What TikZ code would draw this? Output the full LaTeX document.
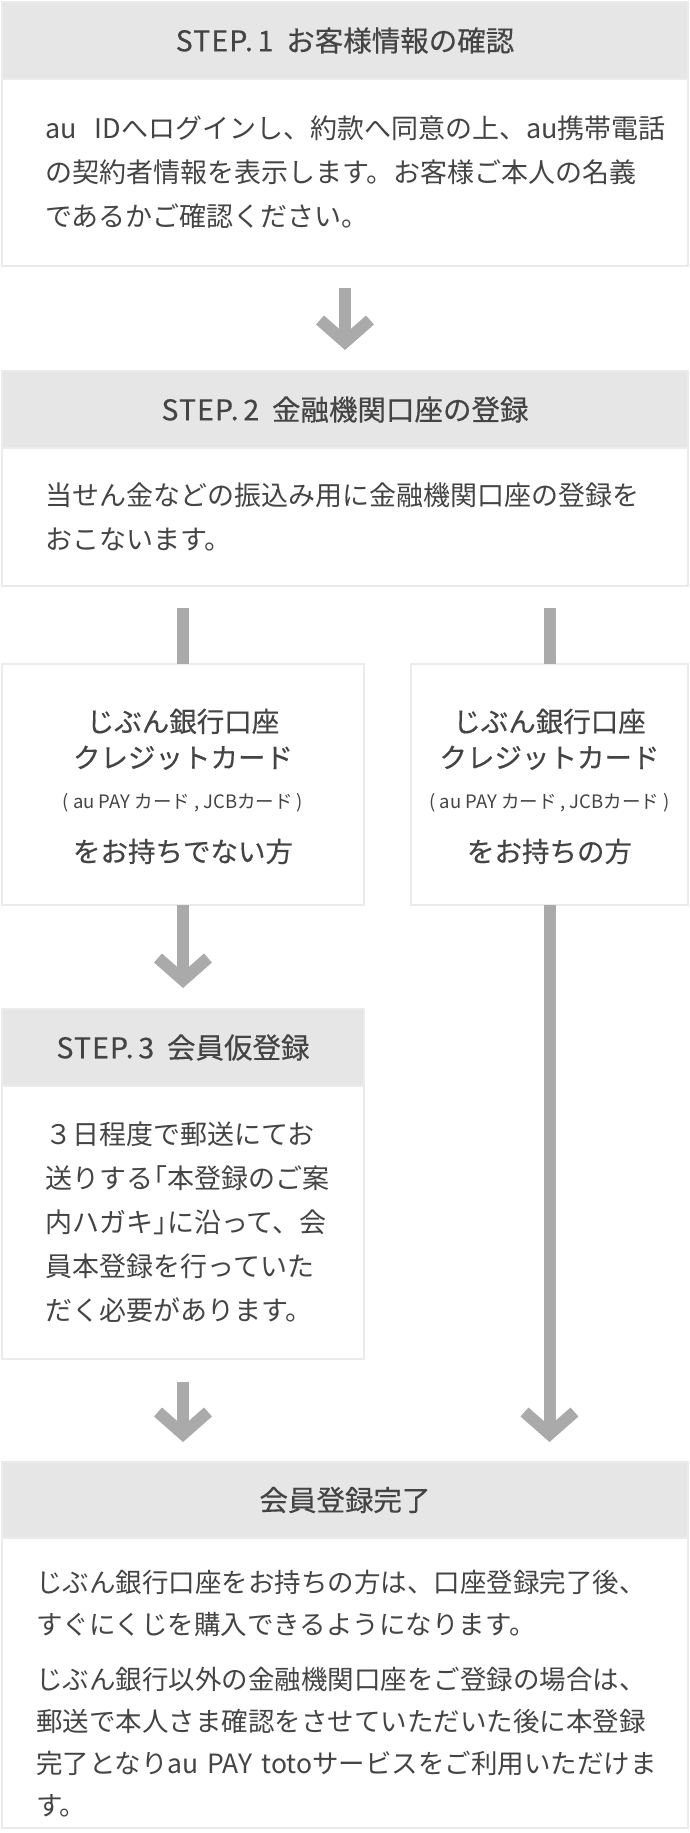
\documentclass[tikz,border=0pt]{standalone}
\usepackage{fontspec}
\setmainfont{Noto Sans CJK JP}
\newfontfamily\hdfont[FakeBold=0.4]{Noto Sans CJK JP}
\usepackage{tikz}
\usetikzlibrary{arrows.meta,positioning}

\definecolor{hdgray}{HTML}{E6E6E6}
\definecolor{lngray}{HTML}{EBEBEB}
\definecolor{argray}{HTML}{AAAAAA}
\definecolor{txgray}{HTML}{444444}

\newcommand{\lbr}{\makebox[0.5em][r]{「}}
\newcommand{\rbr}{\makebox[0.5em][l]{」}}
\newcommand{\stepno}[1]{{\addfontfeature{LetterSpace=4}STEP.\,#1}\hspace{0.45em}}
\newcommand{\cardnote}{{\normalfont\fontsize{18.5}{20}\selectfont ( au\ PAY\ カード\ ,\ JCBカード\ )}}

\begin{document}
\begin{tikzpicture}[x=1pt,y=-1pt,
    every node/.style={text=txgray,inner sep=0pt,outer sep=0pt},
    head/.style={draw=lngray,fill=hdgray,line width=2pt,minimum height=77pt,
                 font=\hdfont\fontsize{28.5}{34}\selectfont},
    body/.style={draw=lngray,fill=white,line width=2pt,align=left,
                 font=\fontsize{27}{44}\selectfont},
    choice/.style={draw=lngray,fill=white,line width=2pt,align=center,minimum height=241pt,
                 font=\hdfont\fontsize{27.5}{36}\selectfont},
    flow/.style={draw=argray,line width=12pt,-{Straight Barb[length=22pt,width=50pt,line width=12pt]}},
    bar/.style={draw=argray,line width=12pt}]
  \path[use as bounding box,fill=white] (0,0) rectangle (690,1833);

  \node[head,minimum width=686pt]            (hd1) at (345,40.5) {\stepno{1}お客様情報の確認};
  \node[body,minimum height=187pt,text width=600pt,inner xsep=43pt] (bd1) [below=0pt of hd1]
    {au\ \ IDへログインし、約款へ同意の上、au携帯電話\\の契約者情報を表示します。お客様ご本人の名義\\であるかご確認ください。};

  \node[head,minimum width=686pt]            (hd2) at (345,409.5) {\stepno{2}金融機関口座の登録};
  \node[body,minimum height=138pt,text width=600pt,inner xsep=43pt] (bd2) [below=0pt of hd2]
    {当せん金などの振込み用に金融機関口座の登録を\\おこないます。};

  \node[choice,minimum width=362pt] (bA) at (183,784.5)
    {\rule{0pt}{27pt}じぶん銀行口座\\クレジットカード\\[5pt]\cardnote\\[17pt]をお持ちでない方};
  \node[choice,minimum width=277pt] (bB) at (549.5,784.5)
    {\rule{0pt}{27pt}じぶん銀行口座\\クレジットカード\\[5pt]\cardnote\\[17pt]をお持ちの方};

  \node[head,minimum width=362pt]            (hd3) at (183,1047.5) {\stepno{3}会員仮登録};
  \node[body,minimum height=273pt,text width=275pt,inner xsep=43.5pt] (bd3) [below=0pt of hd3]
    {３日程度で郵送にてお\\送りする\lbr 本登録のご案\\内ハガキ\rbr に沿って、会\\員本登録を行っていた\\だく必要があります。};

  \node[head,minimum width=686pt,minimum height=76pt] (hdF) at (345,1500) {会員登録完了};
  \node[body,minimum height=290pt,text width=618pt,inner xsep=34pt,
        font=\fontsize{26.5}{42}\selectfont] (bdF) [below=0pt of hdF]
    {\rule{0pt}{44pt}じぶん銀行口座をお持ちの方は、口座登録完了後、\\すぐにくじを購入できるようになります。\\[13pt]じぶん銀行以外の金融機関口座をご登録の場合は、\\郵送で本人さま確認をさせていただいた後に本登録\\\mbox{完了となりau PAY totoサービスをご利用いただけま}\\す。};

  \coordinate (splitA) at (bA.north |- bd2.south);
  \coordinate (splitB) at (bB.north |- bd2.south);
  \coordinate (endB)   at (bB.south |- hdF.north);
  \coordinate (end3)   at (bd3.south |- hdF.north);

  \path (bd1)    edge [flow,shorten <=22pt,shorten >=21pt] (hd2)
        (splitA) edge [bar,shorten <=22pt]                 (bA)
        (splitB) edge [bar,shorten <=22pt]                 (bB)
        (bA)     edge [flow,shorten >=21pt]                (hd3)
        (bB)     edge [flow,shorten >=20pt]                (endB)
        (bd3)    edge [flow,shorten <=23pt,shorten >=20pt] (end3);
\end{tikzpicture}
\end{document}
